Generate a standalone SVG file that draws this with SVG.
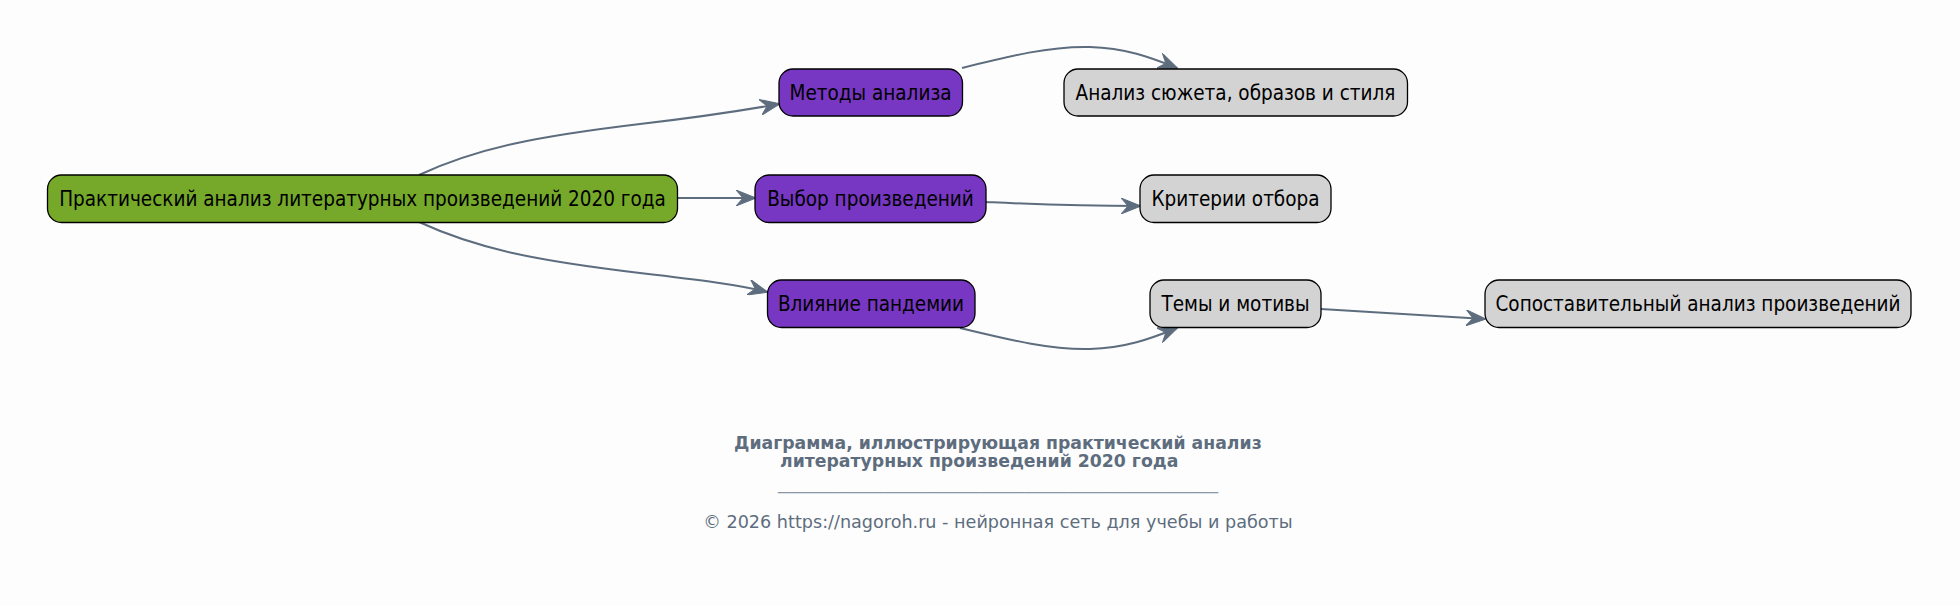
<svg xmlns="http://www.w3.org/2000/svg" width="1960" height="606" viewBox="0 0 1960 606">
<defs>
<marker id="vee" viewBox="0 0 20 16" refX="19" refY="8" markerWidth="20" markerHeight="16" markerUnits="userSpaceOnUse" orient="auto">
<path d="M0,0 L20,8 L0,16 L7,8 Z" fill="#5d6d7e" stroke="#5d6d7e" stroke-width="1"/>
</marker>
<style>
.node rect{stroke:#000;stroke-width:1.3}
.root rect{fill:#76a92a}
.mid rect{fill:#7737c3}
.leaf rect{fill:#d3d3d3}
.node text{font-family:"DejaVu Sans Condensed","DejaVu Sans",sans-serif;font-stretch:condensed;font-size:20.5px;fill:#000;text-anchor:middle;dominant-baseline:central}
.edge{fill:none;stroke:#5d6d7e;stroke-width:2;marker-end:url(#vee)}
.title{font-family:"DejaVu Sans",sans-serif;font-weight:bold;font-size:17.3px;fill:#5d6d7e}
.copy{font-family:"DejaVu Sans",sans-serif;font-size:17.6px;fill:#5d6d7e;text-anchor:middle}
.rule{font-family:"DejaVu Sans",sans-serif;font-size:17.6px;fill:#8a96a3;text-anchor:middle}
</style>
</defs>
<rect width="1960" height="606" fill="#fdfdfd"/>
<g id="connectors">
<path class="edge" d="M419,175 C480,147 540,136 640,124 C700,117 740,111 779,104"/>
<path class="edge" d="M678,198 L755,198"/>
<path class="edge" d="M419,222 C480,250 540,261 640,273 C700,280 740,285 767,292"/>
<path class="edge" d="M962,68 C1010,56 1050,46 1090,47 C1125,48 1150,57 1177,68"/>
<path class="edge" d="M986,202 C1030,204 1070,206 1140,206"/>
<path class="edge" d="M960,328 C1010,340 1050,350 1090,349 C1125,348 1150,339 1177,328"/>
<path class="edge" d="M1321,309 L1485,319"/>
</g>
<g id="root" class="node root"><rect x="47.5" y="175" width="630" height="47.5" rx="14"/><text x="362.5" y="198.5">Практический анализ литературных произведений 2020 года</text></g>
<g id="methods" class="node mid"><rect x="779" y="69" width="183.5" height="47" rx="14"/><text x="870.5" y="92.5">Методы анализа</text></g>
<g id="choice" class="node mid"><rect x="755" y="175" width="231" height="47.5" rx="14"/><text x="870.5" y="198.5">Выбор произведений</text></g>
<g id="pandemic" class="node mid"><rect x="767.5" y="280" width="207.5" height="47.5" rx="14"/><text x="871" y="303.5">Влияние пандемии</text></g>
<g id="plot" class="node leaf"><rect x="1064" y="69" width="343.5" height="47" rx="14"/><text x="1235.5" y="92.5">Анализ сюжета, образов и стиля</text></g>
<g id="criteria" class="node leaf"><rect x="1140" y="175" width="191" height="47.5" rx="14"/><text x="1235.5" y="198.5">Критерии отбора</text></g>
<g id="themes" class="node leaf"><rect x="1150" y="280" width="171" height="47.5" rx="14"/><text x="1235.5" y="303.5">Темы и мотивы</text></g>
<g id="compare" class="node leaf"><rect x="1485" y="280" width="426" height="47.5" rx="14"/><text x="1698" y="303.5">Сопоставительный анализ произведений</text></g>
<g id="caption">
<text class="title" x="734" y="449">Диаграмма, иллюстрирующая практический анализ</text>
<text class="title" x="780" y="467">литературных произведений 2020 года</text>
<text class="rule" x="998" y="489">__________________________________________________</text>
<text class="copy" x="998" y="528">© 2026 https://nagoroh.ru - нейронная сеть для учебы и работы</text>
</g>
</svg>
